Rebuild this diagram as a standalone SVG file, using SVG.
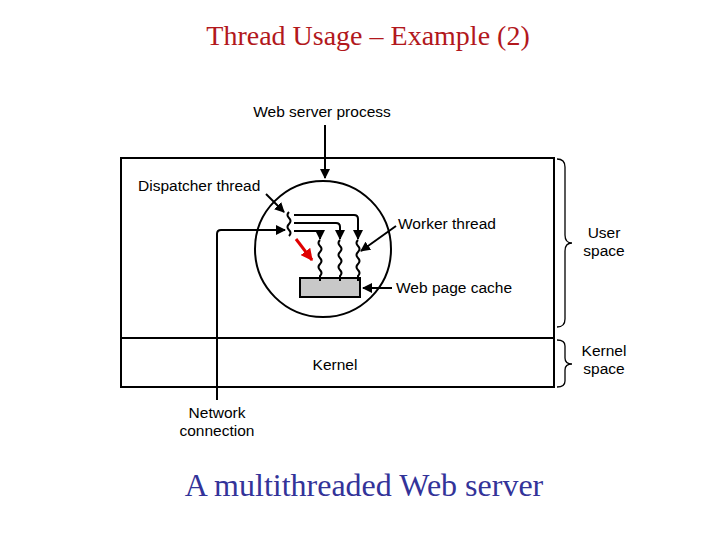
<svg xmlns="http://www.w3.org/2000/svg" width="720" height="540" viewBox="0 0 720 540">
<defs>
<style>
.ln{fill:none;stroke:#000;stroke-width:2}
.lbl{font-family:"Liberation Sans",Arial,sans-serif;font-size:15.5px;fill:#000}
.mid{text-anchor:middle}
</style>
<marker id="ah" viewBox="0 0 10 10" refX="9" refY="5" markerWidth="5" markerHeight="5" orient="auto" markerUnits="strokeWidth">
<path d="M0,0 L10,5 L0,10 z" fill="#000"/>
</marker>
<marker id="ahr" viewBox="0 0 10 10" refX="9" refY="5" markerWidth="4" markerHeight="4" orient="auto" markerUnits="strokeWidth">
<path d="M0,0 L10,5 L0,10 z" fill="#e00000"/>
</marker>
</defs>
<rect width="720" height="540" fill="#fff"/>
<text x="368" y="45" text-anchor="middle" font-family="Liberation Serif,'Times New Roman',serif" font-size="28" fill="#b2181c">Thread Usage – Example (2)</text>

<g id="process">
<rect x="121" y="158" width="433" height="229" class="ln"/>
<line x1="121" y1="338" x2="554" y2="338" class="ln"/>
<text x="335" y="370" class="lbl mid">Kernel</text>
</g>

<g id="circle">
<circle cx="323" cy="249" r="68" class="ln"/>
</g>

<g id="cache">
<rect x="300" y="278" width="60" height="19" fill="#c8c8c8" stroke="#000" stroke-width="2"/>
</g>

<g id="dispatcher">
<path d="M289,212 q-3,3 0,6 q3,3 0,6 q-3,3 0,6 q3,3 0,6" class="ln" stroke-width="1.6"/>
</g>

<g id="workers">
<path d="M320,240 q-3,3 0,6 q3,3 0,6 q-3,3 0,6 q3,3 0,6 q-3,3 0,6 q3,3 0,6 v5" class="ln" stroke-width="1.6"/>
<path d="M340,240 q-3,3 0,6 q3,3 0,6 q-3,3 0,6 q3,3 0,6 q-3,3 0,6 q3,3 0,6 v5" class="ln" stroke-width="1.6"/>
<path d="M358,240 q-3,3 0,6 q3,3 0,6 q-3,3 0,6 q3,3 0,6 q-3,3 0,6 q3,3 0,6 v5" class="ln" stroke-width="1.6"/>
</g>

<g id="connectors">
<line x1="325" y1="125" x2="325" y2="178" class="ln" marker-end="url(#ah)"/>
<line x1="266" y1="194" x2="284" y2="212" class="ln" marker-end="url(#ah)"/>
<path d="M294,215 H354 Q358,215 358,219 V239" class="ln" marker-end="url(#ah)"/>
<path d="M294,223 H336 Q340,223 340,227 V239" class="ln" marker-end="url(#ah)"/>
<path d="M294,231 H316 Q320,231 320,235 V239" class="ln" marker-end="url(#ah)"/>
<line x1="296" y1="239" x2="312" y2="260" stroke="#e00000" stroke-width="3" marker-end="url(#ahr)"/>
<line x1="396" y1="226" x2="361" y2="251" class="ln" marker-end="url(#ah)"/>
<line x1="392" y1="288" x2="363" y2="288" class="ln" marker-end="url(#ah)"/>
<path d="M217,400 V234 Q217,230 221,230 H285" class="ln" marker-end="url(#ah)"/>
</g>

<g id="labels">
<text x="322" y="117" class="lbl mid">Web server process</text>
<text x="138" y="191" class="lbl">Dispatcher thread</text>
<text x="398" y="229" class="lbl">Worker thread</text>
<text x="396" y="293" class="lbl">Web page cache</text>
<text x="217" y="418" class="lbl mid">Network</text>
<text x="217" y="436" class="lbl mid">connection</text>
</g>

<g id="braces">
<path d="M557,159 q8,0 8,8 V235 q0,8 7,8 q-7,0 -7,8 V319 q0,8 -8,8" fill="none" stroke="#000" stroke-width="1.3"/>
<path d="M557,340 q8,0 8,6 V358 q0,6 7,6 q-7,0 -7,6 V381 q0,6 -8,6" fill="none" stroke="#000" stroke-width="1.3"/>
<text x="604" y="238" class="lbl mid">User</text>
<text x="604" y="256" class="lbl mid">space</text>
<text x="604" y="356" class="lbl mid">Kernel</text>
<text x="604" y="374" class="lbl mid">space</text>
</g>

<text x="364" y="496" text-anchor="middle" font-family="Liberation Serif,'Times New Roman',serif" font-size="32" fill="#333399">A multithreaded Web server</text>
</svg>
